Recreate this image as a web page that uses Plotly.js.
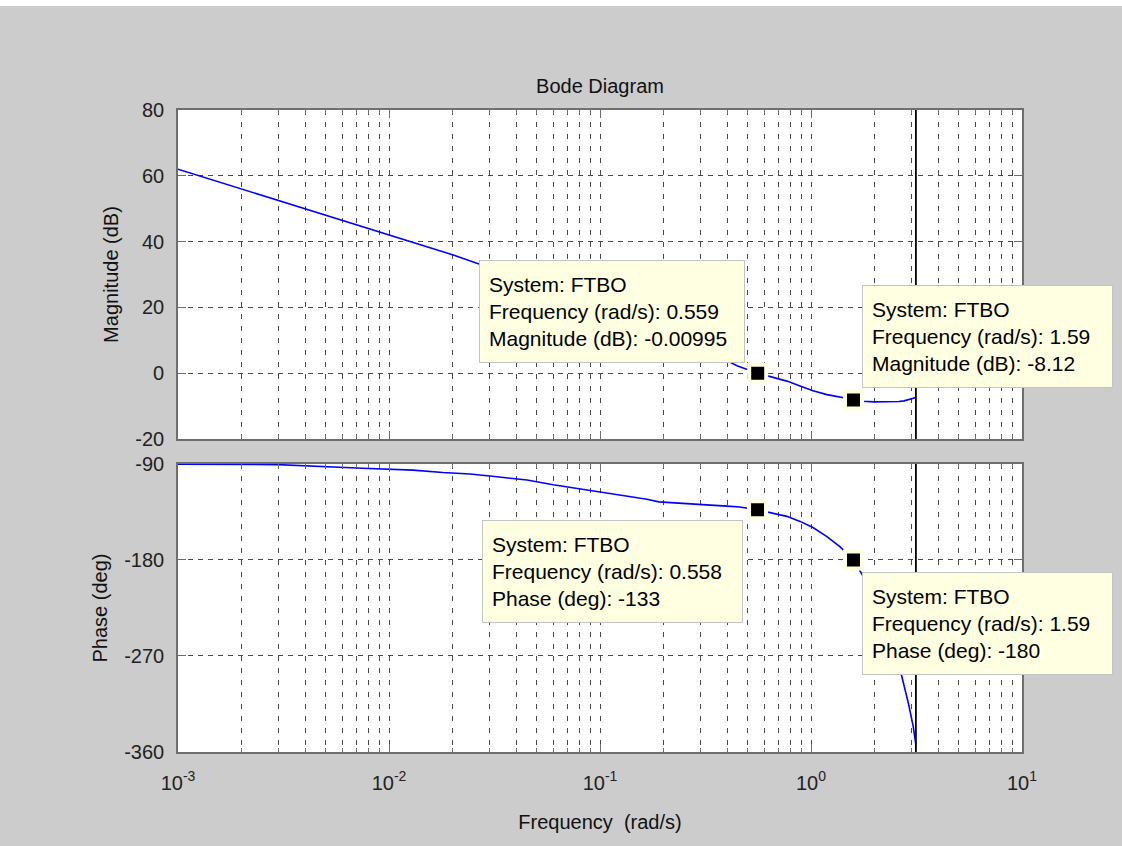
<!DOCTYPE html>
<html>
<head>
<meta charset="utf-8">
<script src="https://cdn.plot.ly/plotly-3.0.1.min.js"></script>
<style>
html,body{margin:0;padding:0;background:#cccccc;}
#chart{width:1122px;height:846px;}
</style>
</head>
<body>
<div id="chart"></div>
<script>
// ---- data ----
const magFreq = [0.001, 0.0015, 0.002, 0.003, 0.005, 0.007, 0.01, 0.015, 0.02, 0.0261, 0.035, 0.05, 0.07, 0.1, 0.14, 0.2, 0.3, 0.446, 0.559, 0.625, 0.769, 0.887, 1.022, 1.19, 1.37, 1.59, 1.75, 2.0, 2.3, 2.61, 2.76, 2.9, 3.0, 3.1416];
const magDb   = [62, 58.5, 56, 52.5, 48, 45.1, 42.1, 38.6, 36, 33.4, 30.8, 27.6, 24.5, 21, 17.2, 13, 8, 2.3, -0.00995, -0.9, -2.4, -3.9, -5.3, -6.5, -7.3, -8.12, -8.5, -8.7, -8.7, -8.6, -8.4, -8.0, -7.7, -7.4];

const phaseFreq = [0.001, 0.003, 0.0075, 0.013, 0.018, 0.0242, 0.0325, 0.0451, 0.06, 0.0778, 0.1033, 0.135, 0.167, 0.19, 0.24, 0.32, 0.4, 0.46, 0.558, 0.625, 0.769, 0.887, 1.022, 1.19, 1.37, 1.59, 1.8, 2.0, 2.2, 2.4, 2.55, 2.7, 2.9, 3.05, 3.1416];
const phaseDeg  = [-90.2, -90.6, -94, -95.7, -98, -99.4, -102, -105, -109.5, -113, -116.7, -120, -123, -125.5, -127, -128.3, -129.5, -130.3, -133, -135.3, -139.1, -143.8, -149.5, -158, -167.5, -180, -198, -216, -235, -254, -270, -290, -315, -336, -353];

const tipMagFreq = [0.559, 1.59];
const tipMagDb = [-0.00995, -8.12];
const tipPhaseFreq = [0.558, 1.59];
const tipPhaseDeg = [-133, -180];
const systemName = 'FTBO';
const nyquistFreq = Math.PI;   // sample time 1 s

const xTickVals = [0.001, 0.01, 0.1, 1, 10];
const xTickText = ['10<sup>-3</sup>', '10<sup>-2</sup>', '10<sup>-1</sup>', '10<sup>0</sup>', '10<sup>1</sup>'];
const magTickVals = [-20, 0, 20, 40, 60, 80];
const magTickText = ['-20', '0', '20', '40', '60', '80'];
const phaseTickVals = [-360, -270, -180, -90];
const phaseTickText = ['-360', '-270', '-180', '-90'];

// ---- build ----
const minorVals = [];
for (let d = -3; d <= 0; d++) for (let k = 2; k <= 9; k++) minorVals.push(+(k * Math.pow(10, d)).toPrecision(3));

const FONT = 'Liberation Sans, Arial, sans-serif';
const frameColor = '#6e6e6e';
const gridColor = '#4a4a4a';

function xAxis(anchor, showLabels) {
  return {
    type: 'log', range: [-3, 1], anchor: anchor, domain: [0, 1],
    tickmode: 'array', tickvals: xTickVals, ticktext: xTickText,
    showticklabels: showLabels,
    ticks: 'inside', ticklen: 8, tickwidth: 1, tickcolor: frameColor,
    showline: true, linecolor: frameColor, linewidth: 1.8, mirror: 'ticks',
    showgrid: true, gridcolor: gridColor, gridwidth: 1, griddash: '5px,7px',
    zeroline: false,
    ticklabelstandoff: 12,
    tickfont: {family: FONT, size: 20, color: '#222'},
    minor: {tickmode: 'array', tickvals: minorVals, ticks: 'inside', ticklen: 4, tickcolor: frameColor,
            showgrid: true, gridcolor: gridColor, gridwidth: 1, griddash: '5px,7px'}
  };
}
function yAxis(anchor, domain, range, vals, text, title) {
  return {
    anchor: anchor, domain: domain, range: range,
    tickmode: 'array', tickvals: vals, ticktext: text,
    ticks: 'inside', ticklen: 8, tickcolor: frameColor,
    showline: true, linecolor: frameColor, linewidth: 1.8, mirror: 'ticks',
    showgrid: true, gridcolor: gridColor, gridwidth: 1, griddash: '5px,5px',
    zeroline: false,
    ticklabelstandoff: 8,
    tickfont: {family: FONT, size: 20, color: '#222'},
    title: {text: title, standoff: 11, font: {family: FONT, size: 20, color: '#111'}}
  };
}

const traces = [
  {x: magFreq, y: magDb, xaxis: 'x', yaxis: 'y', mode: 'lines', line: {color: '#0000ff', width: 1.6}, hoverinfo: 'skip'},
  {x: phaseFreq, y: phaseDeg, xaxis: 'x2', yaxis: 'y2', mode: 'lines', line: {color: '#0000ff', width: 1.6}, hoverinfo: 'skip'},
  {x: tipMagFreq, y: tipMagDb, xaxis: 'x', yaxis: 'y', mode: 'markers',
   marker: {symbol: 'square', size: 17, color: '#000', line: {color: '#ffffe1', width: 4}}, hoverinfo: 'skip'},
  {x: tipPhaseFreq, y: tipPhaseDeg, xaxis: 'x2', yaxis: 'y2', mode: 'markers',
   marker: {symbol: 'square', size: 17, color: '#000', line: {color: '#ffffe1', width: 4}}, hoverinfo: 'skip'}
];

function tip(freq, label, val, px, py, w) {
  return {
    xref: 'paper', yref: 'paper', x: px, y: py, xanchor: 'left', yanchor: 'top',
    showarrow: false, align: 'left', valign: 'middle',
    width: w, height: 83,
    text: 'System: ' + systemName + '<br>Frequency (rad/s): ' + freq + '<br>' + label + ': ' + val,
    font: {family: FONT, size: 21, color: '#000'},
    bgcolor: '#ffffe1', bordercolor: '#c4c4c4', borderwidth: 1, borderpad: 9
  };
}

const layout = {
  width: 1122, height: 846,
  paper_bgcolor: '#cccccc', plot_bgcolor: '#ffffff',
  margin: {l: 178, r: 100, t: 110, b: 94},
  showlegend: false,
  title: {text: 'Bode Diagram', x: 0.5, xref: 'paper', y: 1 - 86 / 846, yref: 'container', yanchor: 'middle',
          font: {family: FONT, size: 20, color: '#111'}},
  xaxis: xAxis('y', false),
  yaxis: yAxis('x', [0.4875, 1], [-20, 80], magTickVals, magTickText, 'Magnitude (dB)'),
  xaxis2: Object.assign(xAxis('y2', true), {title: {text: 'Frequency  (rad/s)', standoff: 22, font: {family: FONT, size: 20, color: '#111'}}}),
  yaxis2: yAxis('x2', [0, 0.4486], [-360, -90], phaseTickVals, phaseTickText, 'Phase (deg)'),
  shapes: [
    {type: 'line', xref: 'x', yref: 'y domain', x0: nyquistFreq, x1: nyquistFreq, y0: 0, y1: 1, line: {color: '#000', width: 1.8}},
    {type: 'line', xref: 'x2', yref: 'y2 domain', x0: nyquistFreq, x1: nyquistFreq, y0: 0, y1: 1, line: {color: '#000', width: 1.8}},
    {type: 'rect', xref: 'paper', yref: 'paper', x0: -0.2109, x1: 1.1185, y0: 1.162, y1: 1.175, fillcolor: '#ffffff', line: {width: 0}, layer: 'above'}
  ],
  annotations: [
    tip(tipMagFreq[0], 'Magnitude (dB)', tipMagDb[0], (479 - 178) / 844, (752 - 260) / 642, 246),
    tip(tipMagFreq[1], 'Magnitude (dB)', tipMagDb[1], (862 - 178) / 844, (752 - 285) / 642, 231),
    tip(tipPhaseFreq[0], 'Phase (deg)', tipPhaseDeg[0], (482 - 178) / 844, (752 - 520) / 642, 241),
    tip(tipPhaseFreq[1], 'Phase (deg)', tipPhaseDeg[1], (862 - 178) / 844, (752 - 572) / 642, 231)
  ]
};

Plotly.newPlot('chart', traces, layout, {displayModeBar: false, staticPlot: true});
</script>
</body>
</html>
